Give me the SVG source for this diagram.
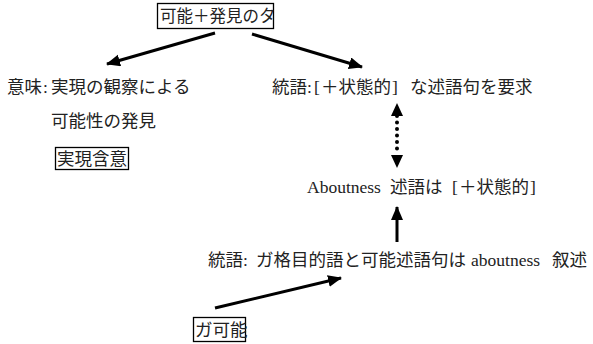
<svg xmlns="http://www.w3.org/2000/svg" width="593" height="344" viewBox="0 0 593 344">
<style>
text { font-family: "Liberation Serif", "Noto Sans CJK JP", serif; font-size: 17.5px; fill: #222; }
.box { fill: #fff; stroke: #000; stroke-width: 1.3; }
.arr { stroke: #000; stroke-width: 3; fill: none; }
.dot { stroke: #000; stroke-width: 4; stroke-linecap: round; stroke-dasharray: 0 6.5; fill: none; }
.head { fill: #000; }
</style>
<defs>
<marker id="ah" markerUnits="userSpaceOnUse" markerWidth="16" markerHeight="14" refX="13" refY="6" orient="auto">
<path d="M0,0 L14,6 L0,12 Z" fill="#000"/>
</marker>
</defs>
<g id="connectors">
<line class="arr" x1="215" y1="33" x2="107" y2="64" marker-end="url(#ah)"/>
<line class="arr" x1="252" y1="34" x2="362" y2="67" marker-end="url(#ah)"/>
<line class="dot" x1="397" y1="116" x2="397" y2="154"/>
<path class="head" d="M391,116 L397,103 L403,116 Z"/>
<path class="head" d="M391,155 L397,168 L403,155 Z"/>
<line class="arr" x1="397" y1="242" x2="397" y2="207" marker-end="url(#ah)"/>
<line class="arr" x1="215" y1="308" x2="341" y2="278" marker-end="url(#ah)"/>
</g>
<g id="n-top">
<rect class="box" x="157.5" y="3.5" width="116" height="25"/>
<text x="160" y="22" style="font-size:16.5px">可能＋発見のタ</text>
</g>
<g id="n-meaning">
<text y="93"><tspan x="7">意味</tspan><tspan x="43">:</tspan><tspan x="51">実現の観察による</tspan></text>
<text x="51" y="127">可能性の発見</text>
</g>
<g id="n-jitsugen">
<rect class="box" x="55.5" y="147.5" width="73" height="22"/>
<text x="57" y="165">実現含意</text>
</g>
<g id="n-syntax">
<text y="93"><tspan x="272">統語</tspan><tspan x="307">:</tspan><tspan x="314">[</tspan><tspan x="321">＋状態的</tspan><tspan x="392">]</tspan><tspan x="410">な述語句を要求</tspan></text>
</g>
<g id="n-aboutness">
<text y="193"><tspan x="307">Aboutness</tspan><tspan x="390">述語は</tspan><tspan x="452">[</tspan><tspan x="459">＋状態的</tspan><tspan x="530">]</tspan></text>
</g>
<g id="n-syntax2">
<text y="266"><tspan x="208">統語</tspan><tspan x="243">:</tspan><tspan x="256">ガ格目的語と可能述語句は</tspan><tspan x="471">aboutness</tspan><tspan x="552">叙述</tspan></text>
</g>
<g id="n-ga">
<rect class="box" x="193.5" y="317.5" width="52" height="24"/>
<text x="195" y="336">ガ可能</text>
</g>
</svg>
